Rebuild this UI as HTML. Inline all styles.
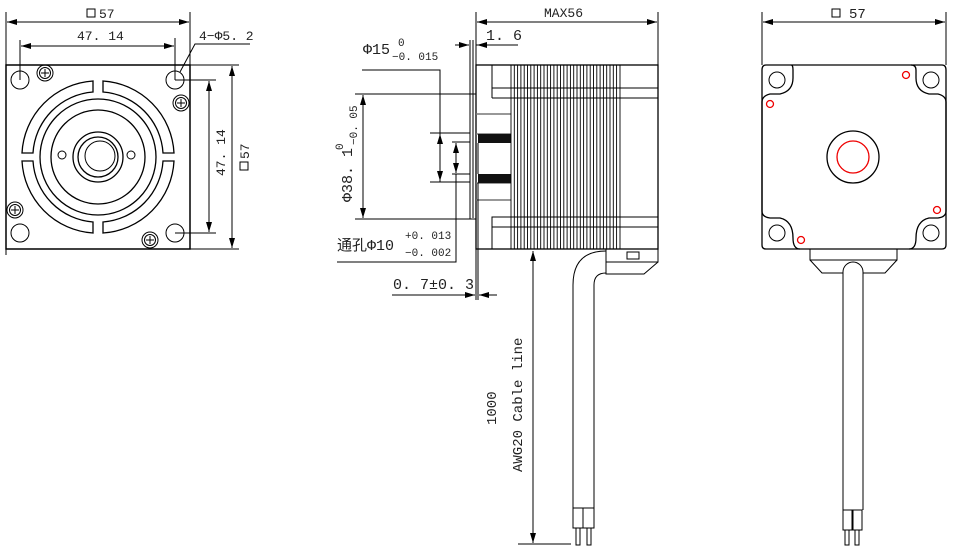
<!DOCTYPE html>
<html><head><meta charset="utf-8"><style>
html,body{margin:0;padding:0;background:#fff;}
svg{display:block}
text{font-family:"Liberation Mono","Noto Sans CJK SC",monospace;fill:#222;}
</style></head><body>
<svg width="956" height="553" viewBox="0 0 956 553" xmlns="http://www.w3.org/2000/svg">
<defs>
<marker id="a" viewBox="0 0 10 6" refX="10" refY="3" markerWidth="10" markerHeight="6" orient="auto-start-reverse" markerUnits="userSpaceOnUse"><path d="M0,0 L10,3 L0,6 z" fill="#000"/></marker>
</defs>
<g fill="none" stroke="#000" stroke-width="1">
<!-- LEFT VIEW -->
<line x1="6" y1="12" x2="6" y2="255"/><line x1="190" y1="12" x2="190" y2="65"/>
<line x1="7" y1="22" x2="189" y2="22" marker-start="url(#a)" marker-end="url(#a)"/>
<line x1="20" y1="40" x2="20" y2="80"/><line x1="175" y1="38" x2="175" y2="80"/>
<line x1="21" y1="46" x2="174" y2="46" marker-start="url(#a)" marker-end="url(#a)"/>
<rect x="6" y="65" width="184" height="184" stroke-width="1.5"/>
<line x1="190" y1="65" x2="239" y2="65"/><line x1="190" y1="249" x2="239" y2="249"/>
<line x1="232" y1="66" x2="232" y2="248" marker-start="url(#a)" marker-end="url(#a)"/>
<line x1="175" y1="80" x2="216" y2="80"/><line x1="175" y1="233" x2="216" y2="233"/>
<line x1="209" y1="81" x2="209" y2="232" marker-start="url(#a)" marker-end="url(#a)"/>
<polyline points="180,72 195,44 250,44"/>
<circle cx="20" cy="80" r="9"/><circle cx="175" cy="80" r="9"/><circle cx="20" cy="233" r="9"/><circle cx="175" cy="233" r="9"/>
<g>
<circle cx="45" cy="73" r="8"/><circle cx="45" cy="73" r="5.5"/><path d="M41,73h8M45,69v8"/>
<circle cx="181" cy="103" r="8"/><circle cx="181" cy="103" r="5.5"/><path d="M177,103h8M181,99v8"/>
<circle cx="15" cy="210" r="8"/><circle cx="15" cy="210" r="5.5"/><path d="M11,210h8M15,206v8"/>
<circle cx="150" cy="240" r="8"/><circle cx="150" cy="240" r="5.5"/><path d="M146,240h8M150,236v8"/>
</g>
<!-- slotted ring: 4 arcs -->
<g stroke-width="1.3">
<path d="M93,81 A76,76 0 0 0 22,153 L33,153 A65,65 0 0 1 93,92 Z"/>
<path d="M103,81 A76,76 0 0 1 174,153 L163,153 A65,65 0 0 0 103,92 Z"/>
<path d="M93,233 A76,76 0 0 1 22,161 L33,161 A65,65 0 0 0 93,222 Z"/>
<path d="M103,233 A76,76 0 0 0 174,161 L163,161 A65,65 0 0 1 103,222 Z"/>
</g>
<circle cx="98" cy="157" r="58" stroke-width="1.3"/>
<circle cx="98" cy="157" r="47" stroke-width="1.3"/>
<circle cx="62" cy="155" r="4"/><circle cx="131" cy="155" r="4"/>
<circle cx="98" cy="157" r="25" stroke-width="1.3"/>
<circle cx="98" cy="157" r="20" stroke-width="1.3"/>
<circle cx="100" cy="156" r="15"/>

<!-- MIDDLE VIEW -->
<line x1="476" y1="12" x2="476" y2="300"/><line x1="658" y1="12" x2="658" y2="65"/>
<line x1="477" y1="22" x2="657" y2="22" marker-start="url(#a)" marker-end="url(#a)"/>
<line x1="455" y1="45" x2="469" y2="45" marker-end="url(#a)"/>
<line x1="490" y1="45" x2="477" y2="45" marker-end="url(#a)"/>
<line x1="476" y1="45" x2="518" y2="45"/>
<line x1="470" y1="40" x2="470" y2="219"/><line x1="473" y1="40" x2="473" y2="218"/>
<rect x="476" y="65" width="182" height="184" stroke-width="1.3"/>
<rect x="492" y="65" width="166" height="23"/><line x1="492" y1="98" x2="658" y2="98"/>
<rect x="492" y="217" width="166" height="32"/><line x1="492" y1="227" x2="658" y2="227"/>
<line x1="492" y1="88" x2="492" y2="98"/>
<path d="M476,114 H511 M476,134 H511 M476,183 H511 M476,200 H511" stroke="#777" stroke-width="1.5"/>
<rect x="478" y="134" width="33" height="9" fill="#111" stroke="none"/>
<rect x="478" y="174" width="33" height="9" fill="#111" stroke="none"/>
<line x1="478" y1="143" x2="478" y2="174"/>
<line x1="478" y1="183" x2="478" y2="300"/>
<g stroke-width="0.9">
<path d="M511,65V249M514.3,65V249M517.6,65V249M520.9,65V249M524.2,65V249M527.5,65V249M530.8,65V249M534.1,65V249M537.4,65V249M540.7,65V249M544,65V249M547.3,65V249M550.6,65V249M553.9,65V249M557.2,65V249M560.5,65V249M563.8,65V249M567.1,65V249M570.4,65V249M573.7,65V249M577,65V249M580.3,65V249M583.6,65V249M586.9,65V249M590.2,65V249M593.5,65V249M596.8,65V249M600.1,65V249M603.4,65V249M606.7,65V249M610,65V249M613.3,65V249M616.6,65V249M620,65V249"/>
</g>
<!-- dims left -->
<polyline points="362,70 440,70 440,182"/>
<line x1="430" y1="133" x2="470" y2="133"/><line x1="430" y1="182" x2="470" y2="182"/>
<line x1="440" y1="134" x2="440" y2="181" marker-start="url(#a)" marker-end="url(#a)"/>
<line x1="452" y1="142" x2="470" y2="142"/><line x1="452" y1="174" x2="470" y2="174"/>
<line x1="456" y1="143" x2="456" y2="173" marker-start="url(#a)" marker-end="url(#a)"/>
<polyline points="456,174 456,262 337,262"/>
<line x1="355" y1="94" x2="476" y2="94"/><line x1="355" y1="219" x2="476" y2="219"/>
<line x1="363" y1="95" x2="363" y2="218" marker-start="url(#a)" marker-end="url(#a)"/>
<line x1="392" y1="295" x2="475" y2="295" marker-end="url(#a)"/>
<line x1="497" y1="295" x2="479" y2="295" marker-end="url(#a)"/>
<!-- connector and cable -->
<rect x="606" y="249" width="52" height="13"/>
<path d="M606,262 V274 H644 L658,262"/>
<rect x="627" y="252" width="12" height="7"/>
<path d="M606,251 Q573,251 573,285 V508 M606,273 Q594,273 594,285 V508"/>
<rect x="573" y="508" width="10" height="20"/><rect x="583" y="508" width="11" height="20"/>
<rect x="576" y="528" width="4" height="17"/><rect x="587" y="528" width="4" height="17"/>
<line x1="533" y1="251" x2="533" y2="543" marker-start="url(#a)" marker-end="url(#a)"/>
<line x1="518" y1="544" x2="571" y2="544"/>

<!-- RIGHT VIEW -->
<line x1="762" y1="12" x2="762" y2="65"/><line x1="946" y1="12" x2="946" y2="65"/>
<line x1="763" y1="22" x2="945" y2="22" marker-start="url(#a)" marker-end="url(#a)"/>
<path stroke-width="1.3" d="M766,65 H791 Q793,65 793,70 V78 Q793,91 780,94 H770 Q762,96 762,102 V211 Q762,217 770,218 H780 Q793,221 793,238 Q793,249 800,249 H909 Q916,249 916,238 Q916,221 929,218 H938 Q946,217 946,211 V102 Q946,96 938,94 H929 Q916,91 916,78 V70 Q916,65 911,65 Z"/>
<path stroke-width="1.3" d="M766,65 Q762,65 762,70 V245 Q762,249 766,249 H800 M911,65 H942 Q946,65 946,70 V245 Q946,249 942,249 H909"/>
<circle cx="777" cy="80" r="8"/><circle cx="931" cy="80" r="8"/><circle cx="777" cy="233" r="8"/><circle cx="931" cy="233" r="8"/>
<circle cx="853" cy="157" r="26" stroke-width="1.3"/>
<circle cx="853" cy="157" r="16" stroke="#e00" stroke-width="1.3"/>
<g stroke="#e00" stroke-width="1.3"><circle cx="906" cy="75" r="3.5"/><circle cx="770" cy="104" r="3.5"/><circle cx="937" cy="210" r="3.5"/><circle cx="801" cy="240" r="3.5"/></g>
<rect x="810" y="249" width="87" height="11"/>
<path d="M810,260 L822,273 H885 L897,260"/>
<path fill="#fff" d="M843,510 V272 A10,10 0 0 1 863,272 V510"/>
<rect x="843" y="510" width="9" height="20"/><rect x="853" y="510" width="9" height="20"/>
<rect x="845" y="530" width="4" height="15"/><rect x="855" y="530" width="4" height="15"/>
</g>
<!-- TEXT -->
<g font-size="13">
<rect x="87" y="9" width="8" height="8" fill="none" stroke="#000"/><text x="99" y="18">57</text>
<text x="77" y="40">47. 14</text>
<text x="199" y="40">4−Φ5. 2</text>
<text transform="translate(225,176) rotate(-90)">47. 14</text>
<rect x="240" y="162" width="8" height="8" fill="none" stroke="#000"/>
<text transform="translate(249,159) rotate(-90)">57</text>
<text x="544" y="17" font-family="Liberation Sans" font-size="13">MAX56</text>
<text x="486" y="40" font-size="15">1. 6</text>
<text x="363" y="54" font-size="15">Φ15</text><text x="398" y="46" font-size="11">0</text><text x="392" y="60" font-size="11">−0. 015</text>
<text transform="translate(352,202) rotate(-90)" font-size="15">Φ38. 1</text>
<text transform="translate(343,150) rotate(-90)" font-size="11">0</text>
<text transform="translate(357,145) rotate(-90)" font-size="11">−0. 05</text>
<text x="337" y="250" font-size="15">通孔Φ10</text><text x="405" y="239" font-size="11">+0. 013</text><text x="405" y="256" font-size="11">−0. 002</text>
<text x="393" y="289" font-size="15">0. 7±0. 3</text>
<text transform="translate(496,425) rotate(-90)" font-family="Liberation Serif" font-size="14">1000</text>
<text transform="translate(522,472) rotate(-90)" font-family="Liberation Mono" font-size="14">AWG20 Cable line</text>
<rect x="832" y="9" width="8" height="8" fill="none" stroke="#000"/><text x="849" y="18" font-family="Liberation Sans" font-size="14">57</text>
</g>
</svg>
</body></html>
